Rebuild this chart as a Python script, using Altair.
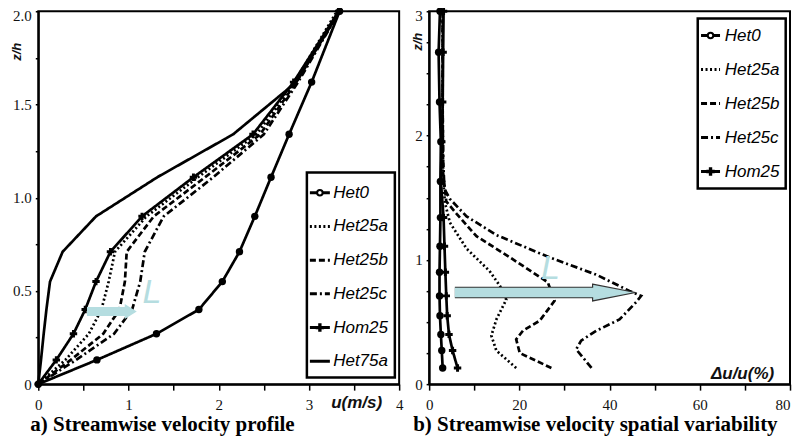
import altair as alt
import pandas as pd

# ---------------- data: panel a (velocity profile) ----------------
SERIES_A = ["Het0", "Het25a", "Het25b", "Het25c", "Hom25", "Het75a"]
z_a = [0, 0.13, 0.27, 0.40, 0.55, 0.71, 0.90, 1.11, 1.34, 1.62, 2.0]
u_het0 = [0, 0.65, 1.31, 1.78, 2.04, 2.23, 2.40, 2.58, 2.78, 3.03, 3.34]
u_het25a = [0, 0.30, 0.56, 0.70, 0.78, 0.85, 1.20, 1.77, 2.42, 2.84, 3.31]
u_het25b = [0, 0.36, 0.72, 0.90, 0.96, 0.98, 1.28, 1.85, 2.46, 2.86, 3.33]
u_het25c = [0, 0.42, 0.84, 1.04, 1.13, 1.18, 1.39, 1.94, 2.50, 2.88, 3.34]
u_hom25 = [0, 0.20, 0.39, 0.52, 0.64, 0.80, 1.15, 1.72, 2.38, 2.83, 3.33]
u_het75a = [0, 0.03, 0.06, 0.09, 0.13, 0.27, 0.64, 1.32, 2.16, 2.86, 3.34]

# ---------------- data: panel b (spatial variability) ----------------
SERIES_B = ["Het0", "Het25a", "Het25b", "Het25c", "Hom25"]
z_b_het0 = [0.13, 0.27, 0.40, 0.55, 0.71, 0.90, 1.11, 1.34, 1.63, 1.95, 2.27, 2.67, 3.0]
d_het0 = [3.0, 2.8, 2.6, 2.4, 2.3, 2.3, 2.4, 2.5, 2.5, 2.6, 2.3, 2.1, 2.4]
z_b_hom25 = [0.13, 0.27, 0.40, 0.55, 0.71, 0.90, 1.11, 1.34, 1.63, 1.95, 2.27, 2.67, 3.0]
d_hom25 = [6.3, 5.2, 4.4, 4.0, 3.8, 3.6, 3.4, 3.2, 2.6, 2.8, 3.0, 3.1, 3.2]
z_b_het25a = [0.13, 0.27, 0.39, 0.52, 0.68, 0.79, 0.91, 1.09, 1.30, 1.46, 1.7, 2.2, 3.0]
d_het25a = [19.3, 14.9, 13.8, 14.9, 17.1, 15.7, 13.4, 8.3, 4.6, 3.5, 3.0, 3.0, 3.0]
z_b_het25b = [0.13, 0.25, 0.36, 0.43, 0.51, 0.67, 0.82, 1.02, 1.19, 1.37, 1.47, 1.7, 2.2, 3.0]
d_het25b = [27.1, 20.1, 19.3, 20.8, 24.5, 27.8, 26.3, 17.9, 10.5, 6.1, 3.8, 3.1, 3.0, 3.0]
z_b_het25c = [0.13, 0.28, 0.35, 0.43, 0.52, 0.66, 0.71, 0.75, 0.88, 1.03, 1.20, 1.35, 1.49, 1.57, 1.8, 2.2, 3.0]
d_het25c = [36.0, 32.6, 33.7, 37.1, 42.2, 45.9, 47.0, 44.4, 37.1, 26.0, 14.9, 8.3, 4.6, 3.4, 3.1, 3.0, 3.0]

# annotation arrows (data units)
arrow_a = {"x": 0.54, "xbase": 0.97, "xhead": 1.025, "z": 0.39, "lx": 1.26, "lz": 0.49}
arrow_b = {"x": 5.7, "xbase": 36.6, "xhead": 41.0, "z": 0.737, "lx": 26.9, "lz": 0.925}

# ---------------- styling ----------------
W, H = 361, 373
BLUE = "#b5dde0"
DASHES = {"Het0": [1, 0], "Het25a": [2, 2.5], "Het25b": [6, 3], "Het25c": [7, 3, 2, 3],
          "Hom25": [1, 0], "Het75a": [1, 0]}
LABEL_FONT = "Liberation Serif"


def long_df(names, xs, zs):
    rows = []
    for n, xv, zv in zip(names, xs, zs):
        for i, (a, b) in enumerate(zip(xv, zv)):
            rows.append({"series": n, "x": a, "z": b, "i": i})
    return pd.DataFrame(rows)


df_a = long_df(SERIES_A, [u_het0, u_het25a, u_het25b, u_het25c, u_hom25, u_het75a], [z_a] * 6)
df_b = long_df(SERIES_B, [d_het0, d_het25a, d_het25b, d_het25c, d_hom25],
               [z_b_het0, z_b_het25a, z_b_het25b, z_b_het25c, z_b_hom25])


def panel(df, series, xmax, zmax, xticks, xlab_every, yticks, ylab_expr, xtitle, xtitle_pos,
          ytitle_pos, arrow, arrow_outline, legend, caption, cap_dx):
    xs = alt.Scale(domain=[0, xmax], nice=False, zero=False)
    ys = alt.Scale(domain=[0, zmax], nice=False, zero=False)
    dash = alt.Scale(domain=series, range=[DASHES[s] for s in series])
    shape = alt.Scale(domain=["Het0", "Hom25"], range=["circle", "cross"])

    xaxis = alt.Axis(values=xticks, labelExpr=f"datum.value % {xlab_every} == 0 ? format(datum.value, 'd') : ''",
                     labelAlign={"condition": {"test": "datum.value == 80", "value": "right"}, "value": "center"},
                     title=xtitle, titleX=xtitle_pos[0], titleY=xtitle_pos[1], titleAlign="center",
                     titleBaseline="middle", titleFont="Liberation Sans", titleFontStyle="italic",
                     titleFontWeight="bold", titleFontSize=17, titleColor="#111",
                     tickSize=6, labelPadding=7, labelOverlap=False, labelFlush=False)
    yaxis = alt.Axis(values=yticks, labelExpr=ylab_expr, title="z/h", titleX=ytitle_pos[0],
                     titleY=ytitle_pos[1], titleAngle=270, titleAlign="center", titleBaseline="middle",
                     titleFont="Liberation Sans", titleFontStyle="italic", titleFontWeight="bold",
                     titleFontSize=13, titleColor="#111", tickSize=3, labelPadding=4,
                     labelOffset={"condition": {"test": f"datum.value == {zmax}", "value": 4}, "value": 0},
                     labelOverlap=False, labelFlush=False)

    def X(f):
        return alt.X(f, scale=xs, axis=xaxis)

    def Y(f):
        return alt.Y(f, scale=ys, axis=yaxis)

    base = alt.Chart(df)
    lines = base.mark_line(color="black", strokeWidth=2.7).encode(
        x=X("x:Q"), y=Y("z:Q"),
        strokeDash=alt.StrokeDash("series:N", scale=dash, legend=None),
        order="i:Q",
    )
    pts = base.transform_filter(alt.FieldOneOfPredicate(field="series", oneOf=["Het0", "Hom25"])).mark_point(
        filled=True, color="black", opacity=1, size=55).encode(
        x=X("x:Q"), y=Y("z:Q"),
        shape=alt.Shape("series:N", scale=shape, legend=None),
    )

    # arrow
    adf = pd.DataFrame([arrow])
    layers = [lines, pts]
    if arrow_outline:
        layers.append(alt.Chart(adf).mark_rule(color="#333", strokeWidth=11.5, strokeCap="butt").encode(
            x=X("x:Q"), x2="xbase:Q", y=Y("z:Q")))
        head = alt.Chart(adf).mark_point(shape="M-1,-0.39L1,0L-1,0.39Z", size=1849, filled=True,
                                         fill=BLUE, stroke="#333", strokeWidth=1.2, opacity=1)
    else:
        head = alt.Chart(adf).mark_point(shape="M-0.8,-1L0.8,0L-0.8,1Z", size=225, filled=True,
                                         fill=BLUE, strokeWidth=0, opacity=1)
    layers.append(head.transform_calculate(x="datum.xhead").encode(x=X("x:Q"), y=Y("z:Q")))
    layers.append(alt.Chart(adf).mark_rule(color=BLUE, strokeWidth=9.5 if arrow_outline else 9,
                                           strokeCap="butt").encode(
        x=X("x:Q"), x2="xbase:Q", y=Y("z:Q")))
    layers.append(alt.Chart(adf).transform_calculate(x="datum.lx", z="datum.lz").mark_text(
        text="L", font="Liberation Sans", fontStyle="italic", fontSize=34, color=BLUE).encode(
        x=X("x:Q"), y=Y("z:Q")))

    # legend (placed in data units of the panel)
    bx0, bx1, by0, by1, row0, step, sx0, sx1, tx = legend
    px = lambda p: p * xmax / W
    pz = lambda p: zmax - p * zmax / H
    box = pd.DataFrame([{"x": px(bx0), "x1": px(bx1), "z": pz(by0), "z1": pz(by1)}])
    layers.append(alt.Chart(box).mark_rect(fill="white", stroke="black", strokeWidth=2.5).encode(
        x=X("x:Q"), x2="x1:Q", y=Y("z:Q"), y2="z1:Q"))
    ldf = pd.DataFrame([{"series": s, "z": pz(row0 + k * step), "x": px(sx0), "xb": px(sx1),
                         "xm": px((sx0 + sx1) / 2), "xt": px(tx)} for k, s in enumerate(series)])
    lbase = alt.Chart(ldf)
    layers.append(lbase.mark_rule(color="black", strokeWidth=3).encode(
        x=X("x:Q"), x2="xb:Q", y=Y("z:Q"),
        strokeDash=alt.StrokeDash("series:N", scale=dash, legend=None)))
    layers.append(lbase.transform_filter(alt.FieldEqualPredicate(field="series", equal="Het0"))
                  .transform_calculate(x="datum.xm").mark_point(
        shape="circle", size=30, filled=True, fill="white", stroke="black", strokeWidth=2, opacity=1).encode(
        x=X("x:Q"), y=Y("z:Q")))
    layers.append(lbase.transform_filter(alt.FieldEqualPredicate(field="series", equal="Hom25"))
                  .transform_calculate(x="datum.xm").mark_point(
        shape="cross", size=70, filled=True, color="black", opacity=1).encode(
        x=X("x:Q"), y=Y("z:Q")))
    layers.append(lbase.transform_calculate(x="datum.xt").mark_text(
        align="left", baseline="middle", font="Liberation Sans",
        fontStyle="italic", fontSize=17, color="black").encode(
        x=X("x:Q"), y=Y("z:Q"), text="series:N"))

    return alt.layer(*layers).properties(
        width=W, height=H,
        title=alt.TitleParams(caption, orient="bottom", anchor="start", frame="group", dx=cap_dx,
                              offset=2, font=LABEL_FONT, fontSize=21, fontWeight="bold",
                              color="black"))


left = panel(df_a, SERIES_A, 4, 2,
             [k * 0.5 for k in range(9)], 1,
             [k * 0.25 for k in range(9)],
             "datum.value % 0.5 == 0 ? (datum.value == 0 ? '0' : format(datum.value, '.1f')) : ''",
             "u(m/s)", (318, 18), (-22, 40),
             arrow_a, False,
             (268.7, 356.7, 161.3, 366.3, 181.6, 33.7, 271.7, 291.7, 295),
             "a) Streamwise velocity profile", -8)

right = panel(df_b, SERIES_B, 80, 3,
              [k * 10 for k in range(9)], 20,
              [k * 0.25 for k in range(13)],
              "datum.value % 1 == 0 ? format(datum.value, 'd') : ''",
              "\u0394u/u(%)", (313, -11), (-12, 30),
              arrow_b, True,
              (268.7, 356.7, 7.3, 177.3, 24.3, 34, 272, 291, 295.7),
              "b) Streamwise velocity spatial variability", -16)

chart = alt.hconcat(left, right, spacing=30, bounds="flush").properties(
    padding={"left": 1.3, "top": -3.8, "right": 0, "bottom": 0}
).configure_view(stroke="black", strokeWidth=2).configure_axis(
    grid=False, domainColor="black", domainWidth=2, tickColor="black", tickWidth=1.5,
    labelFont=LABEL_FONT, labelFontSize=15, labelColor="#111"
)

chart.save("out.html", embed_options={"renderer": "svg", "actions": False})
